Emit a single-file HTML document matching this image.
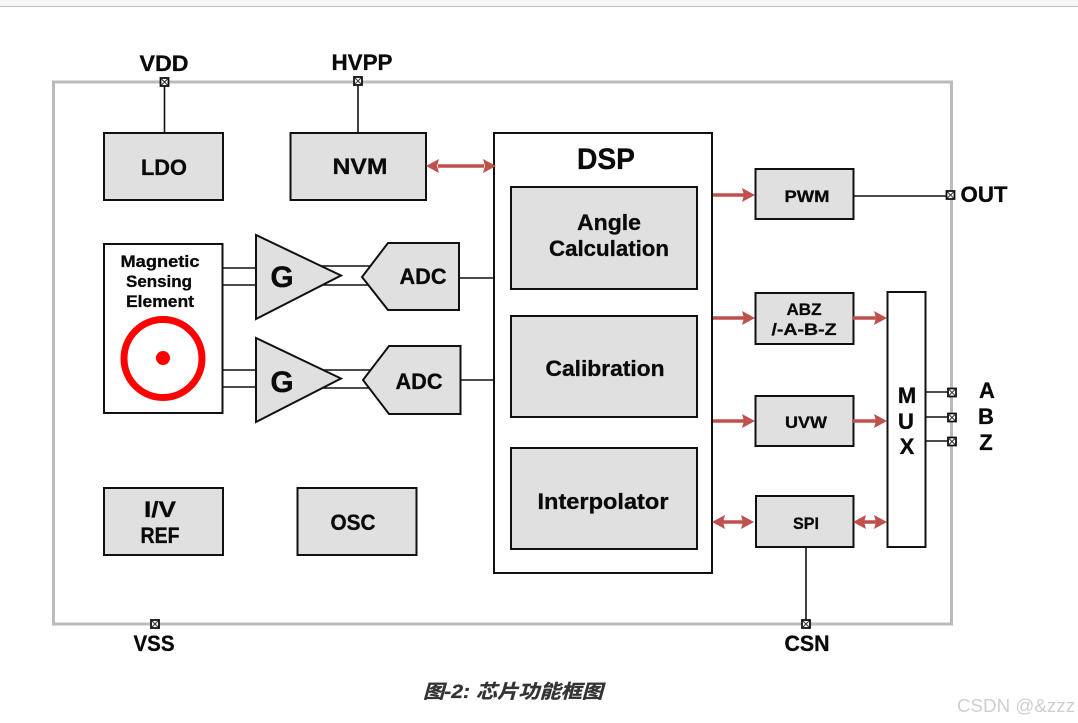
<!DOCTYPE html>
<html><head><meta charset="utf-8">
<style>
html,body{margin:0;padding:0;background:#fff}
svg{display:block}
text{font-family:"Liberation Sans","Noto Sans CJK SC",sans-serif;font-weight:bold;fill:#0a0a0a;text-anchor:middle;stroke:#0a0a0a;stroke-width:.3}
.b{fill:#e0e0e0;stroke:#111;stroke-width:2}
.w{fill:#fff;stroke:#111;stroke-width:2}
.l{stroke:#111;stroke-width:1.6;fill:none}
.r{stroke:#c0504d;stroke-width:3.5;fill:none}
.h{fill:#c0504d}
</style></head>
<body>
<svg width="1078" height="723" viewBox="0 0 1078 723" xmlns="http://www.w3.org/2000/svg">
<defs>
<g id="pin"><rect x="-4" y="-4" width="8" height="8" fill="#fff" stroke="#111" stroke-width="1.8"/><path d="M-3-3L3 3M3-3L-3 3" stroke="#333" stroke-width="1"/></g>
<path id="ah" d="M0 0L-13-7L-11 0L-13 7Z" fill="#c0504d"/>
</defs>
<rect x="0" y="0" width="1078" height="6" fill="#f6f6f6"/>
<rect x="0" y="6" width="1078" height="1" fill="#bdbdbd"/>

<rect x="53.5" y="82" width="898" height="542" fill="#fff" stroke="#bbb" stroke-width="3"/>

<!-- pin wires -->
<path class="l" d="M164.500 82V133M358 81V133M853 196H950M925 392H952M925 417H952M925 441H952M806 547V624"/>
<path class="l" d="M222 268H256M222 285H256M222 370H256M222 387H256M320 266H372M320 285H372M320 370H372M320 388H372M459 278H494M460 380H494"/>

<!-- blocks -->
<rect class="b" x="104" y="133" width="119" height="67"/>
<rect class="b" x="290.500" y="133" width="135.500" height="67"/>
<rect class="w" x="494" y="133" width="218" height="440"/>
<rect class="b" x="511" y="187" width="186" height="102"/>
<rect class="b" x="511" y="316" width="186" height="101"/>
<rect class="b" x="511" y="448" width="186" height="101"/>
<rect class="b" x="755.500" y="169" width="98" height="50"/>
<rect class="b" x="755.500" y="293" width="98" height="51"/>
<rect class="b" x="755.500" y="396" width="98" height="50"/>
<rect class="b" x="756" y="496" width="97.500" height="51"/>
<rect class="w" x="887.500" y="292" width="38" height="255"/>
<rect class="b" x="104" y="488" width="119" height="67"/>
<rect class="b" x="297.500" y="488" width="119" height="67"/>
<rect class="w" x="104" y="244" width="118.500" height="169"/>

<circle cx="163" cy="358.500" r="39" fill="none" stroke="#f00" stroke-width="7"/>
<circle cx="163" cy="358" r="7" fill="#f00"/>

<polygon class="b" points="256,235 256,319 341,275.500"/>
<polygon class="b" points="256,338 256,422 341,378.500"/>
<polygon class="b" points="388,243 459,243 459,310 388,310 362,277"/>
<polygon class="b" points="389,346 460.500,346 460.500,414 389,414 363,380"/>

<!-- red arrows -->
<path class="r" d="M438 166H484"/>
<use href="#ah" transform="translate(496,166)"/><use href="#ah" transform="translate(426,166) rotate(180)"/>
<path class="r" d="M713 195H745"/><use href="#ah" transform="translate(755,195)"/>
<path class="r" d="M713 318H745"/><use href="#ah" transform="translate(755,318)"/>
<path class="r" d="M853 318H877"/><use href="#ah" transform="translate(887,318)"/>
<path class="r" d="M713 421H745"/><use href="#ah" transform="translate(755,421)"/>
<path class="r" d="M853 421H877"/><use href="#ah" transform="translate(887,421)"/>
<path class="r" d="M722 522H744"/><use href="#ah" transform="translate(754,522)"/><use href="#ah" transform="translate(712,522) rotate(180)"/>
<path class="r" d="M863 522H877"/><use href="#ah" transform="translate(887,522)"/><use href="#ah" transform="translate(853,522) rotate(180)"/>

<!-- pins -->
<use href="#pin" x="164.500" y="82"/><use href="#pin" x="358" y="81"/>
<use href="#pin" x="950.500" y="195"/>
<use href="#pin" x="952" y="392.500"/><use href="#pin" x="952" y="417.500"/><use href="#pin" x="952" y="441.500"/>
<use href="#pin" x="155" y="624"/><use href="#pin" x="806" y="624"/>

<!-- labels -->
<g font-size="22">
<text x="164" y="71" textLength="49" lengthAdjust="spacingAndGlyphs">VDD</text>
<text x="362" y="70" textLength="61" lengthAdjust="spacingAndGlyphs">HVPP</text>
<text x="984" y="202" textLength="47" lengthAdjust="spacingAndGlyphs">OUT</text>
<text x="154" y="651" textLength="41" lengthAdjust="spacingAndGlyphs">VSS</text>
<text x="807" y="651" textLength="45" lengthAdjust="spacingAndGlyphs">CSN</text>
<text x="164" y="175" textLength="46" lengthAdjust="spacingAndGlyphs">LDO</text>
<text x="360" y="174" textLength="55" lengthAdjust="spacingAndGlyphs">NVM</text>
<text x="160" y="517" textLength="32" lengthAdjust="spacingAndGlyphs">I/V</text>
<text x="160" y="543" textLength="39" lengthAdjust="spacingAndGlyphs">REF</text>
<text x="353" y="530" textLength="45" lengthAdjust="spacingAndGlyphs">OSC</text>
<text x="423" y="284" textLength="47" lengthAdjust="spacingAndGlyphs">ADC</text>
<text x="419" y="389" textLength="47" lengthAdjust="spacingAndGlyphs">ADC</text>
<text x="609" y="230" textLength="64" lengthAdjust="spacingAndGlyphs">Angle</text>
<text x="609" y="256" textLength="120" lengthAdjust="spacingAndGlyphs">Calculation</text>
<text x="605" y="376" textLength="119" lengthAdjust="spacingAndGlyphs">Calibration</text>
<text x="603" y="509" textLength="131" lengthAdjust="spacingAndGlyphs">Interpolator</text>
<text x="907" y="403">M</text>
<text x="906" y="429">U</text>
<text x="907" y="454">X</text>
<text x="987" y="398">A</text>
<text x="986" y="424">B</text>
<text x="986" y="450">Z</text>
</g>
<text x="606" y="169" font-size="30" textLength="58" lengthAdjust="spacingAndGlyphs">DSP</text>
<text x="282" y="287" font-size="30">G</text>
<text x="282" y="392" font-size="30">G</text>
<g font-size="17">
<text x="160" y="267" textLength="79" lengthAdjust="spacingAndGlyphs">Magnetic</text>
<text x="159" y="287" textLength="66" lengthAdjust="spacingAndGlyphs">Sensing</text>
<text x="160" y="307" textLength="68" lengthAdjust="spacingAndGlyphs">Element</text>
<text x="807" y="202" textLength="45" lengthAdjust="spacingAndGlyphs">PWM</text>
<text x="804" y="315" textLength="35" lengthAdjust="spacingAndGlyphs">ABZ</text>
<text x="804" y="335" textLength="65" lengthAdjust="spacingAndGlyphs">/-A-B-Z</text>
<text x="806" y="428" textLength="42" lengthAdjust="spacingAndGlyphs">UVW</text>
<text x="806" y="529" textLength="26" lengthAdjust="spacingAndGlyphs">SPI</text>
</g>
<text x="513" y="698" font-size="19" font-style="italic" style="fill:#333;stroke:#333" textLength="180" lengthAdjust="spacingAndGlyphs">图-2: 芯片功能框图</text>
<text x="1016" y="712" font-size="18" style="fill:#cfcfcf;font-weight:normal;stroke:none" textLength="118" lengthAdjust="spacingAndGlyphs">CSDN @&amp;zzz</text>
</svg>
</body></html>
